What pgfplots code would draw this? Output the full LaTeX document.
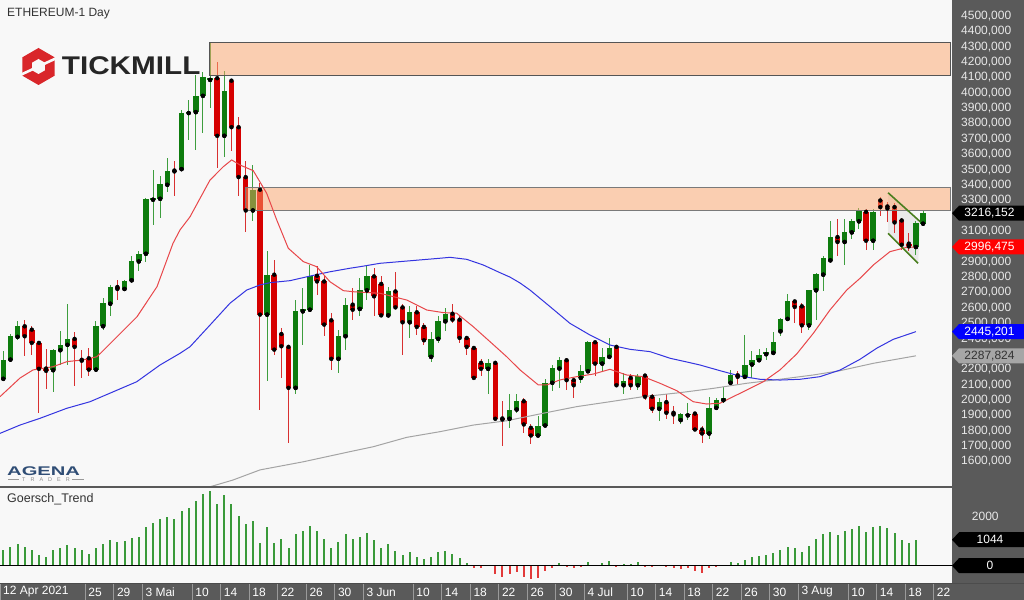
\documentclass[border=0pt]{standalone}
\usepackage{fontspec}
\setmainfont{Liberation Sans}
\usepackage{graphicx}
\usepackage{pgfplots}
\usepackage{pgfplotstable}
\pgfplotsset{compat=1.18}
\definecolor{bg}{HTML}{F8F8F8}
\definecolor{col}{HTML}{5A5A5A}
\definecolor{tick}{HTML}{E8E8E8}
\definecolor{sep}{HTML}{9A9A9A}
\definecolor{gbody}{HTML}{0E7C0E}
\definecolor{gwick}{HTML}{3E9E3E}
\definecolor{rbody}{HTML}{D60000}
\definecolor{rwick}{HTML}{D83030}
\definecolor{maRed}{HTML}{E8474A}
\definecolor{maBlue}{HTML}{3434E0}
\definecolor{maGray}{HTML}{A4A4A4}
\definecolor{peach}{HTML}{FDA56B}
\definecolor{boxline}{HTML}{555555}
\definecolor{boxline2}{HTML}{7A7A7A}
\definecolor{hgreen}{HTML}{3A9A3A}
\definecolor{hred}{HTML}{E23A3A}
\definecolor{wedge}{HTML}{4A7F1F}
\definecolor{txt}{HTML}{333333}
\definecolor{tickred}{HTML}{D9262A}
\definecolor{agena}{HTML}{2F4D75}

\pgfplotstableread{
i O H L C
0 2138 2317 2129 2263
1 2263 2430 2250 2415
2 2411 2512 2393 2480
7 2194 2330 2050 2324
8 2324 2447 2231 2359
9 2359 2627 2231 2398
13 2198 2512 2190 2484
14 2480 2665 2458 2632
15 2627 2751 2545 2736
17 2723 2783 2715 2773
18 2779 2935 2773 2902
19 2902 2967 2837 2952
20 2952 3315 2900 3308
21 3304 3499 3141 3312
22 3310 3460 3185 3408
23 3401 3575 3351 3494
25 3503 3889 3488 3871
26 3868 3954 3694 3876
27 3874 4116 3629 3982
28 3980 4138 3741 4105
29 4084 4330 3900 4095
31 3720 4144 3585 4014
35 3234 3531 3163 3369
37 2556 2967 2122 2816
41 2079 2653 2036 2577
42 2577 2730 2361 2593
43 2588 2881 2577 2809
47 2268 2458 2177 2415
48 2415 2665 2328 2621
50 2593 2794 2545 2714
51 2714 2870 2653 2805
54 2551 2736 2545 2707
57 2506 2614 2404 2573
60 2281 2441 2246 2398
61 2398 2545 2372 2512
62 2512 2600 2447 2562
68 2203 2268 2036 2242
71 1878 2036 1819 1938
72 1938 2036 1917 1992
75 1769 1895 1765 1834
76 1834 2138 1830 2112
77 2112 2231 2057 2209
78 2205 2281 2079 2259
81 2144 2231 2112 2187
82 2187 2382 2181 2376
84 2237 2339 2187 2281
85 2281 2404 2274 2339
87 2096 2177 2042 2127
89 2096 2172 2068 2159
92 1943 2014 1862 1986
95 1869 1917 1841 1906
96 1900 1982 1873 1906
99 1782 2021 1748 1949
100 1949 2014 1943 1999
101 1999 2086 1982 2014
102 2112 2194 2107 2166
104 2151 2426 2151 2231
105 2231 2317 2144 2259
106 2259 2333 2252 2296
107 2298 2339 2259 2311
108 2307 2441 2302 2376
109 2447 2534 2415 2528
110 2528 2692 2512 2642
113 2486 2718 2458 2714
114 2714 2827 2523 2822
115 2816 2935 2707 2924
116 2909 3163 2896 3061
118 3029 3178 2881 3091
119 3091 3178 3048 3163
120 3163 3250 3113 3234
122 3037 3243 2979 3225
128 2996 3163 2946 3152
129 3148 3228 3134 3216
}\up

\pgfplotstableread{
i O H L C
3 2480 2523 2285 2415
4 2458 2480 2296 2372
5 2372 2380 1917 2203
6 2205 2330 2070 2190
10 2398 2440 2090 2346
11 2262 2328 2146 2256
12 2272 2341 2155 2198
16 2736 2783 2653 2723
24 3494 3557 3325 3488
30 4095 4203 3510 3720
32 4079 4084 3618 3776
33 3776 3845 3325 3451
34 3451 3553 3097 3234
36 3369 3412 1938 2556
38 2816 2913 2296 2328
39 2430 2469 2144 2350
40 2346 2361 1722 2079
44 2809 2870 2686 2772
45 2772 2805 2415 2491
46 2519 2567 2198 2268
49 2621 2730 2523 2588
52 2805 2860 2545 2675
53 2756 2809 2545 2551
55 2707 2831 2598 2603
56 2603 2627 2296 2506
58 2571 2610 2426 2476
59 2476 2502 2361 2389
63 2562 2627 2502 2523
64 2523 2549 2372 2404
65 2404 2415 2296 2346
66 2339 2350 2133 2144
67 2242 2268 2155 2203
69 2242 2252 1873 1878
70 1880 1992 1700 1873
73 1992 2014 1787 1841
74 1819 1847 1711 1769
79 2259 2274 2068 2129
80 2129 2133 2014 2096
83 2376 2382 2155 2237
86 2346 2350 2090 2096
88 2144 2172 2068 2096
90 2159 2166 2003 2021
91 2021 2036 1917 1943
93 1986 2036 1878 1917
94 1917 1960 1841 1906
97 1912 1917 1804 1808
98 1808 1834 1717 1782
103 2161 2187 2101 2151
111 2642 2653 2502 2606
112 2610 2632 2437 2486
117 3061 3178 2940 3029
121 3225 3243 2979 3037
123 3299 3321 3195 3256
124 3260 3292 3160 3247
125 3256 3282 3087 3156
126 3169 3185 2979 3011
127 3018 3087 2968 3000
}\down

\pgfplotstableread{
i v
0 630
1 764
2 872
3 738
4 630
5 429
6 335
7 630
8 724
9 831
10 724
11 630
12 469
13 724
14 872
15 1033
16 966
17 1006
18 1126
19 1167
20 1542
21 1703
22 1864
23 1971
24 1864
25 2199
26 2307
27 2615
28 2883
29 3017
30 2481
31 2843
32 2481
33 1998
34 1663
35 1810
36 898
37 1542
38 898
39 1073
40 724
41 1261
42 1408
43 1596
44 1408
45 1073
46 724
47 939
48 1261
49 1073
50 1167
51 1301
52 1033
53 724
54 872
55 603
56 429
57 563
58 362
59 255
60 362
61 563
62 590
63 469
64 295
65 121
66 -107
67 -107
68 20
69 -335
70 -442
71 -349
72 -241
73 -442
74 -550
75 -510
76 -201
77 -80
78 94
79 -67
80 -107
81 -67
82 161
83 20
84 121
85 188
86 -13
87 67
88 67
89 148
90 -13
91 -67
92 40
93 -67
94 -107
95 -148
96 -107
97 -201
98 -282
99 -80
100 -13
101 13
102 161
103 121
104 228
105 335
106 389
107 429
108 496
109 630
110 764
111 697
112 563
113 805
114 1073
115 1261
116 1368
117 1234
118 1408
119 1462
120 1596
121 1341
122 1542
123 1596
124 1502
125 1328
126 1033
127 898
128 1044
}\hist

\newcommand{\fs}[1]{\fontsize{#1bp}{#1bp}\selectfont}
\newcommand{\tagshape}[3]{% color, x, y (axis cs)
  \fill[#1] (axis cs:#2,#3) -- ++(7bp,7.5bp) -- ++(70bp,0bp) -- ++(0bp,-15bp) -- ++(-70bp,0bp) -- cycle;}

\begin{document}
\begin{tikzpicture}
\useasboundingbox (0bp,0bp) rectangle (1024bp,600bp);
\begin{scope}[x=1bp,y=1bp]
\fill[bg] (0,0) rectangle (1024,600);
\fill[col] (952,0) rectangle (1024,600);
\fill[col] (0,0) rectangle (1024,16);
\end{scope}

% ---------------- main price panel ----------------
\begin{axis}[
  at={(0bp,113bp)}, anchor=south west, scale only axis,
  width=952bp, height=487bp,
  xmin=-0.4628, xmax=133.058, ymin=1433.8, ymax=4604.2,
  axis line style={draw=none},
  xtick=\empty,
  ytick={1600,1700,1800,1900,2000,2100,2200,2400,2500,2600,2700,2800,2900,3100,3300,3400,3500,3600,3700,3800,3900,4000,4100,4200,4300,4400,4500},
  ytick style={draw=none},
  yticklabel pos=right,
  yticklabel={\pgfmathprintnumber[fixed,fixed zerofill,precision=3,use comma,1000 sep={},assume math mode=true]{\tick}},
  yticklabel style={anchor=west, inner sep=0pt, xshift=9bp, text=tick, font=\fs{12}},
  clip=false,
]
% wedge shading
\addplot[draw=none, fill=black!12, fill opacity=0.6, forget plot] coordinates {(124.1,3349) (128.6,3161) (128.3,2890) (124.1,3085)} -- cycle;
% wicks
\addplot[only marks, mark=none, forget plot, error bars/.cd, y dir=both, y explicit, error mark=none,
  error bar style={line width=1bp, draw=gwick}]
  table[x=i, y=O, y error plus expr=\thisrow{H}-\thisrow{O}, y error minus expr=\thisrow{O}-\thisrow{L}] {\up};
\addplot[only marks, mark=none, forget plot, error bars/.cd, y dir=both, y explicit, error mark=none,
  error bar style={line width=1bp, draw=rwick}]
  table[x=i, y=O, y error plus expr=\thisrow{H}-\thisrow{O}, y error minus expr=\thisrow{O}-\thisrow{L}] {\down};
% bodies
\addplot[only marks, mark=none, forget plot, error bars/.cd, y dir=plus, y explicit, error mark=none,
  error bar style={line width=5.5bp, draw=gbody}]
  table[x=i, y=O, y error plus expr=\thisrow{C}-\thisrow{O}, y error minus expr=0] {\up};
\addplot[only marks, mark=none, forget plot, error bars/.cd, y dir=plus, y explicit, error mark=none,
  error bar style={line width=5.5bp, draw=rbody}]
  table[x=i, y=C, y error plus expr=\thisrow{O}-\thisrow{C}, y error minus expr=0] {\down};
% zones
\addplot[fill=peach, fill opacity=0.5, draw=boxline, line width=1bp, forget plot] coordinates {(28.9,4114) (132.8,4114) (132.8,4326) (28.9,4326)} -- cycle;
\addplot[fill=peach, fill opacity=0.5, draw=boxline2, line width=1bp, forget plot] coordinates {(34.0,3234) (132.8,3234) (132.8,3384) (34.0,3384)} -- cycle;
% moving averages
\addplot[maGray, line width=1bp] coordinates {(28.9,1434) (32.2,1479) (36.0,1545) (42.08,1598) (48.63,1664) (51.89,1696) (56.58,1757) (61.25,1794) (65.92,1837) (70.60,1865) (75.74,1914) (80.42,1957) (85.09,1989) (89.76,2022) (94.91,2048) (99.58,2076) (104.26,2109) (108.93,2135) (113.60,2163) (117.35,2191) (122.02,2239) (128,2287.824)};
\addplot[maBlue, line width=1bp] coordinates {(-0.46,1783) (2.34,1837) (5.15,1881) (8.89,1946) (12.16,1989) (15.44,2054) (18.71,2119) (21.98,2228) (24.78,2304) (26.19,2347) (28.99,2488) (31.79,2630) (34.14,2716) (36.0,2749) (37.41,2764) (40.21,2777) (43.02,2807) (45.82,2835) (48.63,2858) (50.03,2868) (52.83,2890) (55.64,2901) (58.44,2912) (61.25,2923) (62.65,2929) (64.99,2916) (67.32,2879) (69.66,2829) (71.07,2800) (72.47,2762) (73.87,2716) (76.68,2608) (79.48,2499) (82.29,2423) (85.09,2358) (87.90,2330) (90.70,2315) (93.51,2272) (96.31,2243) (97.71,2228) (100.52,2191) (103.32,2156) (106.13,2135) (108.93,2130) (111.74,2135) (114.54,2152) (117.35,2195) (120.15,2265) (122.49,2337) (124.82,2395) (128,2445.201)};
\addplot[maRed, line width=1bp] coordinates {(-0.46,2022) (2.34,2143) (4.17,2196) (6.97,2217) (8.93,2250) (11.18,2261) (13.14,2282) (15.95,2412) (18.75,2542) (21.56,2738) (23.80,3020) (24.78,3107) (26.19,3193) (28.99,3432) (30.86,3519) (32.03,3563) (33.20,3530) (35.06,3493) (36.94,3346) (38.35,3172) (39.97,2988) (42.08,2901) (43.95,2868) (45.82,2770) (47.69,2712) (49.09,2705) (52.83,2695) (56.58,2651) (59.38,2586) (61.71,2569) (63.59,2565) (65.92,2477) (68.26,2380) (70.60,2282) (72.47,2196) (75.04,2098) (76.21,2098) (78.08,2131) (80.42,2152) (82.75,2169) (85.09,2200) (87.43,2163) (89.76,2152) (92.10,2109) (94.45,2061) (96.77,1989) (98.65,1974) (100.52,1979) (102.38,2022) (104.26,2065) (106.59,2119) (108.93,2196) (111.28,2300) (113.60,2434) (115.94,2586) (118.29,2716) (120.15,2792) (122.02,2879) (124.36,2966) (126.70,2994) (128,2996.475)};
% wedge lines
\addplot[wedge, line width=1.6bp] coordinates {(124.1,3349) (128.6,3161)};
\addplot[wedge, line width=1.6bp] coordinates {(124.1,3085) (128.3,2890)};
% value tags
\tagshape{black}{133.058}{3216.152}
\node[text=white, font=\fs{12}, inner sep=0pt] at ([xshift=37.5bp]axis cs:133.058,3216.152) {3216,152};
\tagshape{red}{133.058}{2996.475}
\node[text=white, font=\fs{12}, inner sep=0pt] at ([xshift=37.5bp]axis cs:133.058,2996.475) {2996,475};
\tagshape{blue}{133.058}{2445.201}
\node[text=white, font=\fs{12}, inner sep=0pt] at ([xshift=37.5bp]axis cs:133.058,2445.201) {2445,201};
\tagshape{black!35}{133.058}{2287.824}
\node[text=txt, font=\fs{12}, inner sep=0pt] at ([xshift=37.5bp]axis cs:133.058,2287.824) {2287,824};
\end{axis}

% ---------------- indicator panel ----------------
\begin{axis}[
  at={(0bp,16bp)}, anchor=south west, scale only axis,
  width=952bp, height=97bp,
  xmin=-0.4628, xmax=133.058, ymin=-738, ymax=3168,
  axis line style={draw=none},
  xtick={-0.46,11.5,15.5,19.5,26.5,30.5,34.5,38.5,42.5,46.5,50.5,57.5,61.5,65.5,69.5,73.5,77.5,81.5,87.5,91.5,95.5,99.5,103.5,107.5,111.5,118.5,122.5,126.5,130.5},
  xticklabels={12 Apr 2021,25,29,3 Mai,10,14,18,22,26,30,3 Jun,10,14,18,22,26,30,4 Jul,10,14,18,22,26,30,3 Aug,10,14,18,22},
  xtick pos=bottom, xtick align=inside, major tick length=-16bp,
  xtick style={draw=sep, line width=1bp},
  xticklabel style={anchor=west, inner sep=0pt, xshift=3bp, yshift=-8bp, text=white, font=\fs{12}},
  ytick={2000}, yticklabels={2000}, ytick style={draw=none},
  yticklabel pos=right,
  yticklabel style={anchor=west, inner sep=0pt, xshift=19.7bp, text=tick, font=\fs{12}},
  clip=false,
]
\addplot[ycomb, draw=hgreen, line width=2bp, restrict y to domain=0:5000] table[x=i, y=v] {\hist};
\addplot[ycomb, draw=hred, line width=2bp, restrict y to domain=-5000:0] table[x=i, y=v] {\hist};
\addplot[black, line width=1bp] coordinates {(-0.4628,0) (133.058,0)};
\tagshape{black}{133.058}{1044}
\node[text=white, font=\fs{12}, inner sep=0pt] at ([xshift=38bp]axis cs:133.058,1044) {1044};
\tagshape{black}{133.058}{0}
\node[text=white, font=\fs{12}, inner sep=0pt] at ([xshift=38bp]axis cs:133.058,0) {0};
\end{axis}

\begin{scope}[x=1bp,y=1bp]
% panel separator
\draw[line width=1.5bp, black!65] (0,113) -- (952,113);
\draw[line width=1bp, black!70] (0,16) -- (1024,16);

% texts
\node[anchor=base west, inner sep=0pt, text=txt, font=\fs{12}] at (7,583.3) {ETHEREUM-1 Day};
\node[anchor=west, inner sep=0pt, text=txt, font=\fs{12.5}] at (7,101) {Goersch\_Trend};

% Tickmill logo
\fill[tickred] (38.5,533.5) +(90:18.5) -- +(150:18.5) -- +(210:18.5) -- +(270:18.5) -- +(330:18.5) -- +(30:18.5) -- cycle;
\fill[bg] (38.5,533.5) +(90:7.5) -- +(150:7.5) -- +(210:7.5) -- +(270:7.5) -- +(330:7.5) -- +(30:7.5) -- cycle;
\draw[bg, line width=2.6] (38.5,533.5) +(25:6) -- +(25:20);
\draw[bg, line width=2.6] (38.5,533.5) +(205:6) -- +(205:20);
\node[anchor=base west, inner sep=0pt, text=black!85, font=\fs{25.6}\bfseries] at (61.7,525) {\scalebox{1.16}[1]{TICKMILL}};

% AGENA logo
\node[anchor=west, inner sep=0pt, text=agena, font=\fs{12.6}\bfseries] at (7,128.5) {\scalebox{1.6}[1]{AGENA}};
\node[anchor=west, inner sep=0pt, text=black!45, font=\fs{5.5}] at (22,120.5) {T\hspace{5bp}R\hspace{5bp}A\hspace{5bp}D\hspace{5bp}E\hspace{5bp}R};
\draw[black!40, line width=0.8] (8,120.5) -- (19,120.5);
\draw[black!40, line width=0.8] (72,120.5) -- (84,120.5);
\end{scope}
\end{tikzpicture}
\end{document}
